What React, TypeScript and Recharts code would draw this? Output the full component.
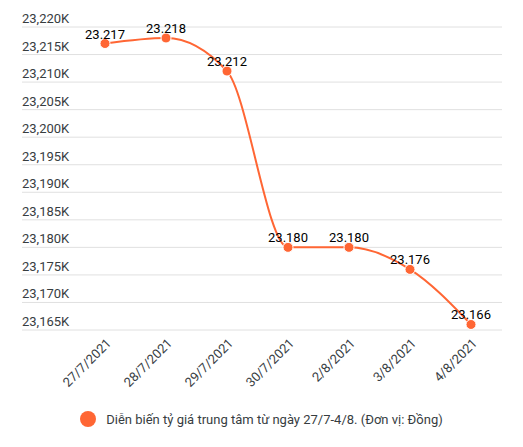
import React from 'react';
import {
    LineChart,
    Line,
    XAxis,
    YAxis,
    CartesianGrid,
    Legend,
    LabelList,
} from 'recharts';

const dates = ['27/7/2021', '28/7/2021', '29/7/2021', '30/7/2021', '2/8/2021', '3/8/2021', '4/8/2021'];
const rates = [23217, 23218, 23212, 23180, 23180, 23176, 23166];
const yTicks = [23165, 23170, 23175, 23180, 23185, 23190, 23195, 23200, 23205, 23210, 23215, 23220];

const seriesName = 'Diễn biến tỷ giá trung tâm từ ngày 27/7-4/8. (Đơn vị: Đồng)';
const ORANGE = '#FF6634';
const FONT = 'Roboto, "Noto Sans", sans-serif';

const data = dates.map((d, i) => ({ date: d, rate: rates[i] }));

// y labels sit above the grid line, left aligned with it
const YTick = (props: any) => {
    const { y, payload } = props;
    return (
        <text x={14} y={y - 4} fontSize={13} fill="#373d3f" fontFamily={FONT} textAnchor="start">
            {payload.value.toLocaleString('en-US')}K
        </text>
    );
};

const XTick = (props: any) => {
    const { x, y, payload } = props;
    return (
        <g transform={`translate(${x + 7},${y + 6})`}>
            <text x={0} y={0} fontSize={13} fill="#373d3f" fontFamily={FONT} textAnchor="end" transform="rotate(-45)">
                {payload.value}
            </text>
        </g>
    );
};

const LegendContent = () => (
    <div
        style={{
            display: 'flex',
            alignItems: 'center',
            justifyContent: 'center',
            height: 40,
            fontFamily: FONT,
            fontSize: 13,
            color: '#373d3f',
        }}
    >
        <span
            style={{
                width: 16,
                height: 16,
                borderRadius: 8,
                background: ORANGE,
                display: 'inline-block',
                marginRight: 10,
            }}
        />
        <span>{seriesName}</span>
    </div>
);

export default function App() {
    return (
        <div style={{ width: 515, height: 431 }}>
            <LineChart width={515} height={431} data={data} margin={{ top: 19, right: 21, left: 13, bottom: 0 }}>
                <CartesianGrid vertical={false} stroke="#e0e0e0" />
                <XAxis
                    dataKey="date"
                    interval={0}
                    axisLine={false}
                    tickLine={false}
                    height={69}
                    padding={{ left: 83, right: 31 }}
                    tick={<XTick />}
                />
                <YAxis
                    width={1}
                    domain={[23165, 23220]}
                    ticks={yTicks}
                    interval={0}
                    axisLine={false}
                    tickLine={false}
                    tick={<YTick />}
                />
                <Legend verticalAlign="bottom" height={40} content={<LegendContent />} />
                <Line
                    type="monotone"
                    dataKey="rate"
                    name={seriesName}
                    stroke={ORANGE}
                    strokeWidth={2}
                    dot={{ r: 5, fill: ORANGE, stroke: '#fff', strokeWidth: 1 }}
                    isAnimationActive={false}
                >
                    <LabelList
                        dataKey="rate"
                        position="top"
                        offset={5}
                        fontSize={13}
                        fill="#000"
                        fontFamily={FONT}
                        formatter={(v: any) => Number(v).toLocaleString('de-DE')}
                    />
                </Line>
            </LineChart>
        </div>
    );
}
